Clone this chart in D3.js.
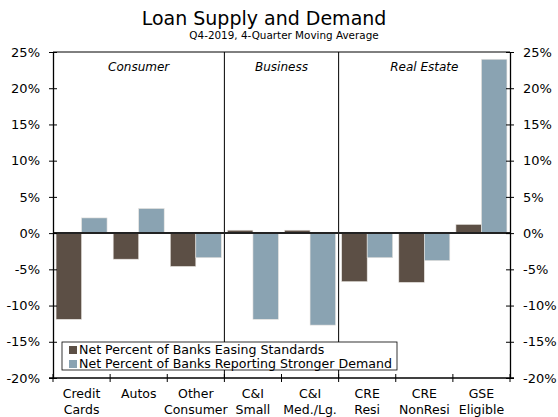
<!DOCTYPE html>
<html>
<head>
<meta charset="utf-8">
<script src="https://cdn.jsdelivr.net/npm/d3@7"></script>
<style>
  body { margin: 0; background: #fff; }
  svg text { font-family: "DejaVu Sans", Verdana, sans-serif; fill: #000; }
</style>
</head>
<body>
<svg id="chart" width="558" height="417"></svg>
<script>
// categories, two-line labels
var categories = ["Credit Cards", "Autos", "Other Consumer", "C&I Small", "C&I Med./Lg.",
                  "CRE Resi", "CRE NonResi", "GSE Eligible"];
var catLines = [["Credit", "Cards"], ["Autos"], ["Other", "Consumer"], ["C&I", "Small"],
                ["C&I", "Med./Lg."], ["CRE", "Resi"], ["CRE", "NonResi"], ["GSE", "Eligible"]];
var easing = [-11.9, -3.6, -4.6, 0.4, 0.4, -6.7, -6.8, 1.2];
var demand = [2.1, 3.4, -3.4, -11.9, -12.7, -3.4, -3.8, 24.0];
var seriesNames = ["Net Percent of Banks Easing Standards",
                   "Net Percent of Banks Reporting Stronger Demand"];
var sections = [{ name: "Consumer", from: 0, to: 3 },
                { name: "Business", from: 3, to: 5 },
                { name: "Real Estate", from: 5, to: 8 }];
var yTicks = [-20, -15, -10, -5, 0, 5, 10, 15, 20, 25];

var colors = ["#5c4f45", "#8aa3b2"];

var svg = d3.select( "#chart" );
var pLeft = 53, pRight = 510, pTop = 52, pBottom = 378;  // plot box

var x = d3.scaleBand()
    .domain( d3.range( categories.length ) )
    .range( [pLeft, pRight] )
    .paddingInner( 0 )
    .paddingOuter( 0 );
var xs = d3.scaleBand()
    .domain( [0, 1] )
    .range( [0, x.bandwidth()] )
    .paddingOuter( 0.12 )
    .paddingInner( 0 );
var y = d3.scaleLinear().domain( [-20, 25] ).range( [pBottom, pTop] );

// titles
svg.append( "text" )
  .attr( "x", 264 ).attr( "y", 25 )
  .attr( "text-anchor", "middle" )
  .style( "font-size", "19px" )
  .text( "Loan Supply and Demand" );
svg.append( "text" )
  .attr( "x", 284 ).attr( "y", 39 )
  .attr( "text-anchor", "middle" )
  .style( "font-size", "10.4px" )
  .text( "Q4-2019, 4-Quarter Moving Average" );

// section dividers
sections.slice( 1 ).forEach( function( s ) {
    var xx = x( s.from );
    svg.append( "line" )
      .attr( "x1", xx ).attr( "x2", xx )
      .attr( "y1", pTop ).attr( "y2", pBottom )
      .attr( "stroke", "#000" ).attr( "stroke-width", 1 );
});
sections.forEach( function( s ) {
    var cx = ( x( s.from ) + x( s.to - 1 ) + x.bandwidth() ) / 2;
    svg.append( "text" )
      .attr( "x", cx ).attr( "y", 71 )
      .attr( "text-anchor", "middle" )
      .style( "font-size", "12px" )
      .style( "font-style", "italic" )
      .text( s.name );
});

// bars
[easing, demand].forEach( function( vals, si ) {
    svg.append( "g" ).selectAll( "rect" )
      .data( vals )
      .enter().append( "rect" )
      .attr( "x", function( d, i ) { return x( i ) + xs( si ); } )
      .attr( "width", xs.bandwidth() )
      .attr( "y", function( d ) { return y( Math.max( 0, d ) ); } )
      .attr( "height", function( d ) { return Math.abs( y( d ) - y( 0 ) ); } )
      .attr( "fill", colors[si] )
      .attr( "stroke", "#e8e4e0" )
      .attr( "stroke-width", 0.6 );
});

// zero line
svg.append( "line" )
  .attr( "x1", pLeft ).attr( "x2", pRight )
  .attr( "y1", y( 0 ) ).attr( "y2", y( 0 ) )
  .attr( "stroke", "#222" ).attr( "stroke-width", 2 );

// frame / axes
var leftAxis = d3.axisLeft( y ).tickValues( yTicks )
    .tickFormat( function( d ) { return d + "%"; } )
    .tickSizeInner( 4 ).tickSizeOuter( 0 ).tickPadding( 9 );
var rightAxis = d3.axisRight( y ).tickValues( yTicks )
    .tickFormat( function( d ) { return d + "%"; } )
    .tickSizeInner( 4 ).tickSizeOuter( 0 ).tickPadding( 9 );

var gl = svg.append( "g" ).attr( "transform", "translate(" + pLeft + ",0)" ).call( leftAxis );
var gr = svg.append( "g" ).attr( "transform", "translate(" + pRight + ",0)" ).call( rightAxis );
[gl, gr].forEach( function( g ) {
    g.select( ".domain" ).attr( "stroke", "#000" ).attr( "stroke-width", 1.3 );
    g.selectAll( ".tick line" ).attr( "x1", -4 ).attr( "x2", 4 ).attr( "stroke", "#000" );
    g.selectAll( "text" ).style( "font-size", "13px" ).attr( "fill", "#000" )
      .style( "font-family", "DejaVu Sans, Verdana, sans-serif" );
});

// top border
svg.append( "line" )
  .attr( "x1", pLeft ).attr( "x2", pRight )
  .attr( "y1", pTop ).attr( "y2", pTop )
  .attr( "stroke", "#000" ).attr( "stroke-width", 1 );

// bottom axis with ticks at category boundaries
svg.append( "line" )
  .attr( "x1", pLeft - 4 ).attr( "x2", pRight + 4 )
  .attr( "y1", pBottom ).attr( "y2", pBottom )
  .attr( "stroke", "#000" ).attr( "stroke-width", 1.3 );
svg.append( "g" ).selectAll( "line" )
  .data( d3.range( categories.length + 1 ) )
  .enter().append( "line" )
  .attr( "x1", function( i ) { return pLeft + i * x.bandwidth(); } )
  .attr( "x2", function( i ) { return pLeft + i * x.bandwidth(); } )
  .attr( "y1", pBottom - 4 ).attr( "y2", pBottom + 4 )
  .attr( "stroke", "#000" );

// category labels
var cl = svg.append( "g" ).selectAll( "text" )
  .data( catLines )
  .enter().append( "text" )
  .attr( "text-anchor", "middle" )
  .style( "font-size", "12.5px" )
  .attr( "transform", function( d, i ) {
      return "translate(" + ( x( i ) + x.bandwidth() / 2 ) + ",0)"; } );
cl.selectAll( "tspan" )
  .data( function( d ) { return d; } )
  .enter().append( "tspan" )
  .attr( "x", 0 )
  .attr( "y", function( d, j ) { return 398 + j * 16; } )
  .text( function( d ) { return d; } );

// legend
var lg = svg.append( "g" ).attr( "transform", "translate(62,342)" );
lg.append( "rect" )
  .attr( "width", 335 ).attr( "height", 28 )
  .attr( "fill", "#fff" ).attr( "stroke", "#000" ).attr( "stroke-width", 0.8 );
seriesNames.forEach( function( name, i ) {
    lg.append( "rect" )
      .attr( "x", 7 ).attr( "y", 4 + i * 14 )
      .attr( "width", 8 ).attr( "height", 8 )
      .attr( "fill", colors[i] );
    lg.append( "text" )
      .attr( "x", 17 ).attr( "y", 12 + i * 14 )
      .style( "font-size", "12.6px" )
      .text( name );
});
</script>
</body>
</html>
